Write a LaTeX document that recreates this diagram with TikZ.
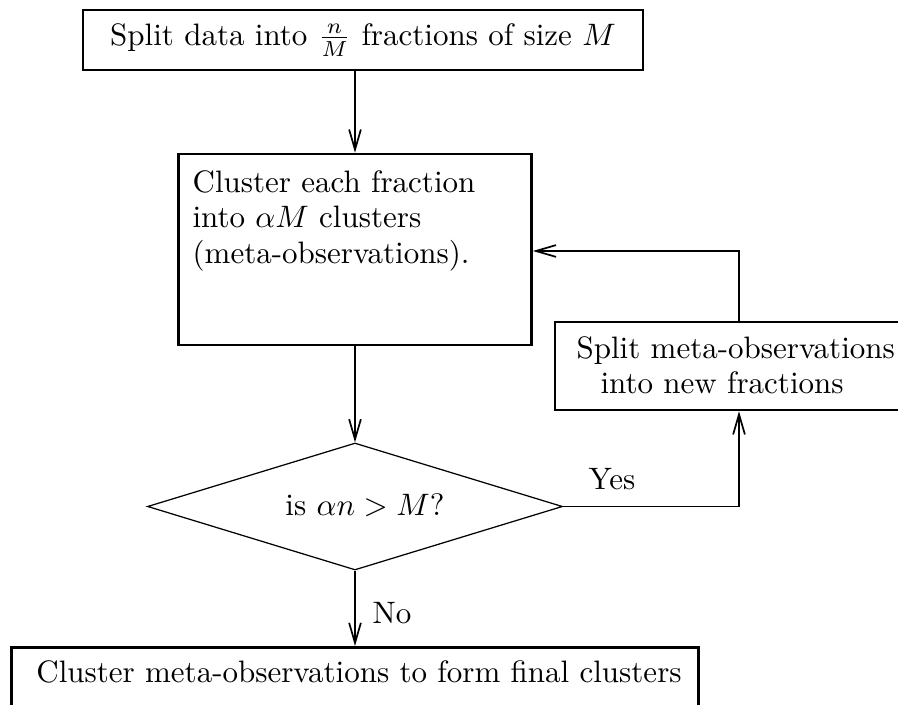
\documentclass[tikz,border=0pt]{standalone}
\usetikzlibrary{shapes.geometric,arrows.meta}
\newcommand\pxu{0.3226pt}
\begin{document}
\begin{tikzpicture}[x=0.3226pt,y=-0.3226pt,
  boxsty/.style={draw, rectangle, line width=0.85pt, inner sep=0pt},
  arr/.style={line width=0.55pt, -{Straight Barb[length=6.5pt,width=3.8pt]}},
  dia/.style={draw, diamond, line width=0.4pt, inner sep=0pt},
  lbl/.style={inner sep=0pt, font=\fontsize{10pt}{11.3pt}\selectfont, align=left}]
\clip (0,0) rectangle (898,705);
\node[boxsty, minimum width=560*\pxu, minimum height=60*\pxu] (top) at (363,40) {Split data into $\frac{n}{M}$ fractions of size $M$};
\node[boxsty, minimum width=353*\pxu, minimum height=191*\pxu] (cl) at (355,249.5) {};
\node[lbl, anchor=north west] (cltext) at (192,170.5) {Cluster each fraction\\into $\alpha M$ clusters\\(meta-observations).};
\node[boxsty, minimum width=360*\pxu, minimum height=88*\pxu] (split) at (735,366) {};
\node[lbl, anchor=north west] (splittext) at (576,336.5) {Split meta-observations\\\hspace*{7.7pt}into new fractions};
\node[dia, minimum width=415*\pxu, minimum height=127*\pxu] (dia) at (355,506.5) {};
\node[lbl, anchor=base] (diatext) at (365,515) {is $\alpha n > M$?};
\node[boxsty, minimum width=687*\pxu, minimum height=80*\pxu, anchor=north] (fin) at (355,646) {};
\node[lbl, anchor=base] (fintext) at (359,682) {Cluster meta-observations to form final clusters};
\node[lbl, anchor=base west] (yes) at (588,490) {Yes};
\node[lbl, anchor=base west] (no) at (372,623) {No};
\coordinate (fb) at (739,251);
\draw[arr] (top.south -| cl.north) -- (cl.north);
\draw[arr] (cl.south) -- (dia.north);
\draw[arr] (dia.east) -| (split.south -| fb);
\draw[arr] (split.north -| fb) -- (fb) -- (cl.east |- fb);
\draw[arr] (dia.south) -- (fin.north);
\end{tikzpicture}
\end{document}
